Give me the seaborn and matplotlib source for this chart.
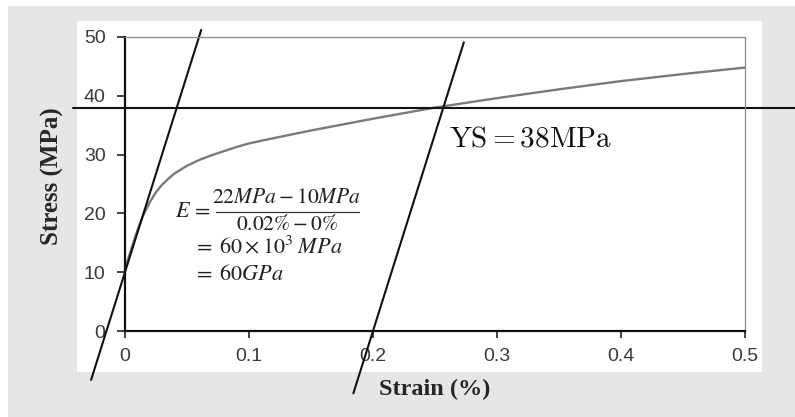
import numpy as np
import pandas as pd
import seaborn as sns
import matplotlib.pyplot as plt
from matplotlib.patches import Rectangle

# stress-strain curve
strain = [0, 0.005, 0.01, 0.015, 0.02, 0.025, 0.03, 0.035, 0.04, 0.05, 0.06, 0.07,
          0.08, 0.09, 0.1, 0.12, 0.15, 0.2, 0.25, 0.3, 0.35, 0.4, 0.45, 0.5]
stress = [10.5, 13.9, 17.1, 19.8, 21.9, 23.6, 24.9, 25.9, 26.8, 28.1, 29.1, 29.9,
          30.6, 31.3, 31.9, 32.8, 34.1, 36.1, 38.0, 39.6, 41.1, 42.5, 43.7, 44.8]

# elastic line and 0.2% offset line
modulus = 670          # MPa per % strain (slope as drawn)
elastic_intercept = 10  # MPa at zero strain
offset_strain = 0.2
yield_stress = 38
elastic_stress_ends = [-8.3, 51.2]
offset_stress_ends = [-10.6, 49.1]

xticks = [0, 0.1, 0.2, 0.3, 0.4, 0.5]
xticklabels = ["0", "0.1", "0.2", "0.3", "0.4", "0.5"]
yticks = [0, 10, 20, 30, 40, 50]

df = pd.DataFrame({"Strain": strain, "Stress": stress})

sns.set_style("white")
fig = plt.figure(figsize=(7.95, 4.17), dpi=100)
fig.patch.set_facecolor("white")

# grey frame and white panel behind the plot
fig.add_artist(Rectangle((0.01, 0), 0.99, 0.9856, transform=fig.transFigure,
                         facecolor="#e6e6e6", edgecolor="none", zorder=-3))
fig.add_artist(Rectangle((0.0969, 0.1086), 0.8616, 0.8417, transform=fig.transFigure,
                         facecolor="white", edgecolor="none", zorder=-2))

ax = fig.add_axes([0.1572, 0.2062, 0.7799, 0.7051])
ax.set_facecolor("none")

sns.lineplot(data=df, x="Strain", y="Stress", ax=ax, color="#7a7a7a", lw=1.7)

# elastic line
es = np.array(elastic_stress_ends)
ax.plot((es - elastic_intercept) / modulus, es, color="#111111", lw=1.5, clip_on=False)
# parallel line offset by 0.2 %
os_ = np.array(offset_stress_ends)
ax.plot(offset_strain + os_ / modulus, os_, color="#111111", lw=1.5, clip_on=False)
# yield stress
ax.axhline(yield_stress, xmin=-0.084, xmax=1.081, color="#111111", lw=1.5, clip_on=False)

ax.set_xlim(0, 0.5)
ax.set_ylim(0, 50)
ax.set_xticks(xticks)
ax.set_xticklabels(xticklabels)
ax.set_yticks(yticks)
ax.tick_params(axis="x", bottom=True, direction="out", length=5, width=1.2, pad=7,
               labelsize=14, labelcolor="#3a3a3a", color="#222222")
ax.tick_params(axis="y", left=True, direction="out", length=6, width=1.2, pad=8,
               labelsize=14, labelcolor="#3a3a3a", color="#222222")
for lab in ax.get_xticklabels() + ax.get_yticklabels():
    lab.set_family("Liberation Sans")

for side in ["left", "bottom"]:
    ax.spines[side].set_color("#111111")
    ax.spines[side].set_linewidth(1.6)
for side in ["top", "right"]:
    ax.spines[side].set_color("#8a8a8a")
    ax.spines[side].set_linewidth(0.9)

ax.set_xlabel("Strain (%)", fontfamily="Liberation Serif", fontweight="bold", fontsize=17.5)
ax.set_ylabel("Stress (MPa)", fontfamily="Liberation Serif", fontweight="bold", fontsize=18)
ax.xaxis.set_label_coords(0.5, -0.163)
ax.yaxis.set_label_coords(-0.099, 0.527)

# modulus working, fraction laid out by hand
eq = dict(math_fontfamily="stix", color="#222222", va="baseline")
ax.text(0.0405, 19.44, r"$E\,=$", ha="left", fontsize=16, **eq)
ax.text(0.1305, 21.82, r"$22MPa-10MPa$", ha="center", fontsize=15.5, **eq)
ax.plot([0.0735, 0.1885], [20.29, 20.29], color="#333333", lw=0.9)
ax.text(0.1305, 17.18, r"$0.02\%-0\%$", ha="center", fontsize=15.5, **eq)
ax.text(0.0551, 13.3, r"$=\;60\times10^{3}\;MPa$", ha="left", fontsize=16, **eq)
ax.text(0.0551, 8.67, r"$=\;60GPa$", ha="left", fontsize=16, **eq)

ax.text(0.2615, 31.3, r"$\mathrm{YS=38MPa}$", ha="left", va="baseline",
        fontsize=21, math_fontfamily="cm", color="#111111")

fig.savefig("out.png", dpi=100)
